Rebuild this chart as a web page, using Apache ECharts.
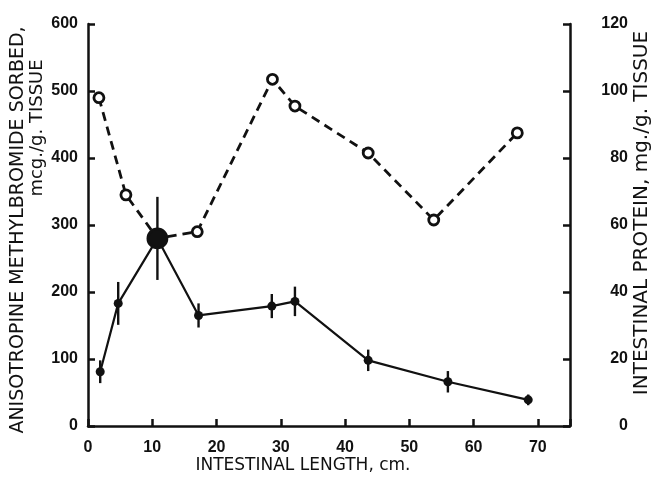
<!DOCTYPE html>
<html>
<head>
<meta charset="utf-8">
<script src="https://cdn.jsdelivr.net/npm/echarts@6/dist/echarts.min.js"></script>
<style>html,body{margin:0;padding:0;background:#fff}#c{width:652px;height:479px}</style>
</head>
<body>
<div id="c"></div>
<script>
// Intestinal protein (dashed, open circles, right axis)
var proteinX = [1.7, 5.9, 10.8, 17.0, 28.7, 32.2, 43.6, 53.8, 66.8];
var proteinY = [98, 69, 56, 58, 103.5, 95.5, 81.5, 61.5, 87.5];
// Anisotropine methylbromide sorbed (solid, filled dots, left axis)
var sorbedX = [1.9, 4.7, 10.8, 17.2, 28.6, 32.2, 43.6, 56.0, 68.5];
var sorbedY = [81, 183, 280, 165, 179, 186, 98, 66, 39];
var sorbedErr = [17, 32, 62, 18, 18, 22, 16, 16, 8];

var xTicks = [0, 10, 20, 30, 40, 50, 60, 70];
var leftTicks = [0, 100, 200, 300, 400, 500, 600];
var rightTicks = [0, 20, 40, 60, 80, 100, 120];

var INK = '#111';
var FONT = 'Liberation Sans';

var chart = echarts.init(document.getElementById('c'), null, {renderer: 'canvas'});

var proteinData = proteinX.map(function (x, i) {
  var d = {value: [x, proteinY[i]]};
  if (i === 2) { d.symbolSize = 19; d.itemStyle = {color: INK}; }
  return d;
});
var sorbedData = sorbedX.map(function (x, i) {
  var d = {value: [x, sorbedY[i]]};
  if (i === 2) d.symbolSize = 15;
  return d;
});
var errData = sorbedX.map(function (x, i) {
  return [x, sorbedY[i] - sorbedErr[i], sorbedY[i] + sorbedErr[i]];
});

var axisLabelStyle = {color: INK, fontFamily: FONT, fontSize: 16, fontWeight: 'bold'};

chart.setOption({
  animation: false,
  backgroundColor: '#fff',
  grid: {left: 88, right: 82, top: 24, bottom: 53, containLabel: false},
  xAxis: {
    type: 'value', min: 0, max: 75, interval: 10,
    axisLine: {show: true, onZero: false, lineStyle: {color: INK, width: 2.5}},
    axisTick: {show: true, inside: true, length: 7, lineStyle: {color: INK, width: 2.5}},
    axisLabel: {
      show: true, margin: 14, ...axisLabelStyle,
      formatter: function (v) { return xTicks.indexOf(v) >= 0 ? String(v) : ''; }
    },
    splitLine: {show: false}
  },
  yAxis: [
    {
      type: 'value', min: 0, max: 600, interval: 100, position: 'left',
      axisLine: {show: true, lineStyle: {color: INK, width: 2.5}},
      axisTick: {show: true, inside: true, length: 7, lineStyle: {color: INK, width: 2.5}},
      axisLabel: {
        show: true, margin: 10, ...axisLabelStyle,
        formatter: function (v) { return leftTicks.indexOf(v) >= 0 ? String(v) : ''; }
      },
      splitLine: {show: false}
    },
    {
      type: 'value', min: 0, max: 120, interval: 20, position: 'right',
      axisLine: {show: true, lineStyle: {color: INK, width: 2.5}},
      axisTick: {show: true, inside: true, length: 7, lineStyle: {color: INK, width: 2.5}},
      axisLabel: {
        show: true, margin: 58, align: 'right', ...axisLabelStyle,
        formatter: function (v) { return rightTicks.indexOf(v) >= 0 ? String(v) : ''; }
      },
      splitLine: {show: false}
    }
  ],
  series: [
    {
      type: 'custom', yAxisIndex: 0, z: 3,
      data: errData,
      renderItem: function (params, api) {
        var lo = api.coord([api.value(0), api.value(1)]);
        var hi = api.coord([api.value(0), api.value(2)]);
        return {
          type: 'line',
          shape: {x1: lo[0], y1: lo[1], x2: hi[0], y2: hi[1]},
          style: {stroke: INK, lineWidth: 2.4}
        };
      }
    },
    {
      type: 'line', yAxisIndex: 0, z: 4,
      data: sorbedData,
      symbol: 'circle', symbolSize: 9,
      lineStyle: {color: INK, width: 2.2},
      itemStyle: {color: INK, borderColor: INK, borderWidth: 0}
    },
    {
      type: 'line', yAxisIndex: 1, z: 5,
      data: proteinData,
      symbol: 'circle', symbolSize: 10,
      lineStyle: {color: INK, width: 2.8, type: [9, 6]},
      itemStyle: {color: '#fff', borderColor: INK, borderWidth: 2.8}
    }
  ],
  graphic: [
    {
      type: 'text', x: 18, y: 230, rotation: Math.PI / 2,
      style: {text: 'ANISOTROPINE METHYLBROMIDE SORBED,', fill: INK, font: '19px "DejaVu Sans"', align: 'center', verticalAlign: 'middle'}
    },
    {
      type: 'text', x: 37, y: 128, rotation: Math.PI / 2,
      style: {text: 'mcg./g. TISSUE', fill: INK, font: '18px "DejaVu Sans"', align: 'center', verticalAlign: 'middle'}
    },
    {
      type: 'text', x: 642, y: 213, rotation: Math.PI / 2,
      style: {text: 'INTESTINAL PROTEIN, mg./g. TISSUE', fill: INK, font: '20px "DejaVu Sans"', align: 'center', verticalAlign: 'middle'}
    },
    {
      type: 'text', x: 303, y: 466,
      style: {text: 'INTESTINAL LENGTH, cm.', fill: INK, font: '17px "DejaVu Sans"', align: 'center', verticalAlign: 'middle'}
    }
  ]
});
</script>
</body>
</html>
